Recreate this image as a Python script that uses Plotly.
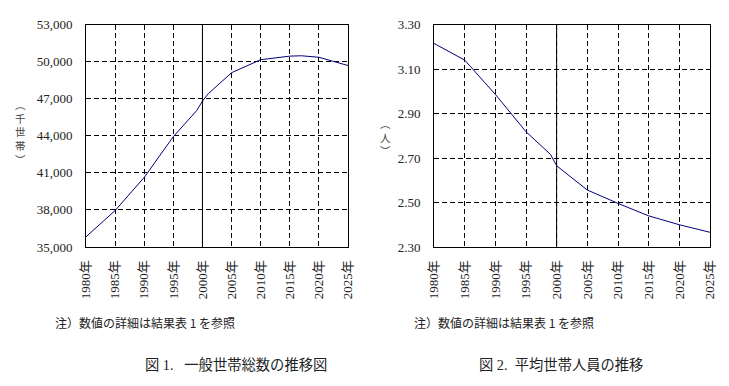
import plotly.graph_objects as go

# ---- data ----
years_hh = [1980, 1985, 1990, 1995, 1999, 2000, 2001, 2005, 2010, 2015, 2017, 2020, 2025]
households = [35824, 37950, 40630, 43930, 46030, 46800, 47400, 49100, 50150, 50440, 50470, 50350, 49680]

years_sz = [1980, 1985, 1990, 1995, 1999, 2000, 2005, 2010, 2015, 2020, 2025]
avg_size = [3.215, 3.14, 2.986, 2.818, 2.716, 2.665, 2.556, 2.496, 2.44, 2.40, 2.366]

tick_years = [1980, 1985, 1990, 1995, 2000, 2005, 2010, 2015, 2020, 2025]
tick_year_labels = [f"{y}年" for y in tick_years]
y1_ticks = [35000, 38000, 41000, 44000, 47000, 50000, 53000]
y1_labels = ["35,000", "38,000", "41,000", "44,000", "47,000", "50,000", "53,000"]
y2_ticks = [2.30, 2.50, 2.70, 2.90, 3.10, 3.30]
y2_labels = ["2.30", "2.50", "2.70", "2.90", "3.10", "3.30"]
split_year = 2000

note_text = "注）数値の詳細は結果表 1 を参照"
caption1 = "図 1.&nbsp;&nbsp; 一般世帯総数の推移図"
caption2 = "図 2.&nbsp; 平均世帯人員の推移"
ytitle1_chars = ["︵", "千", "世", "帯", "︶"]
ytitle2_chars = ["︵", "人", "︶"]

# page body has an 8px margin; work in window pixels and shift
OFF = 8
W, H = 729 - OFF, 386 - OFF
FONT = "'Liberation Serif', 'Times New Roman', 'Noto Sans CJK JP', serif"
CJK = "'Noto Sans CJK JP', sans-serif"
TXT = "#222222"
LINE = "#00007a"

fig = go.Figure()
fig.add_trace(go.Scatter(x=years_hh, y=households, mode="lines",
                         line=dict(color=LINE, width=1), xaxis="x", yaxis="y",
                         showlegend=False, hoverinfo="skip"))
fig.add_trace(go.Scatter(x=years_sz, y=avg_size, mode="lines",
                         line=dict(color=LINE, width=1), xaxis="x2", yaxis="y2",
                         showlegend=False, hoverinfo="skip"))

def px_x(p):
    return (p - OFF) / W

def px_y(p):
    return 1 - (p - OFF) / H

ydom = [px_y(247), px_y(24.5)]

xcommon = dict(range=[1980, 2025], tickvals=tick_years, ticktext=tick_year_labels,
               tickangle=-90, showgrid=True, gridcolor="black", griddash="5px,3px",
               gridwidth=1, showline=True, linecolor="black", linewidth=1, mirror=True,
               ticks="", ticklabelstandoff=7, zeroline=False, automargin=False,
               tickfont=dict(family=FONT, size=13, color=TXT))
ycommon = dict(showgrid=True, gridcolor="black", griddash="5px,3px", gridwidth=1,
               showline=True, linecolor="black", linewidth=1, mirror=True,
               ticks="", ticklabelstandoff=10, zeroline=False, automargin=False,
               tickfont=dict(family=FONT, size=13, color=TXT))

fig.update_layout(
    width=W, height=H, margin=dict(l=0, r=0, t=0, b=0, autoexpand=False),
    paper_bgcolor="white", plot_bgcolor="white",
    xaxis=dict(domain=[px_x(86), px_x(348)], anchor="y", **xcommon),
    yaxis=dict(domain=ydom, anchor="x", range=[35000, 53000], tickvals=y1_ticks,
               ticktext=y1_labels, **ycommon),
    xaxis2=dict(domain=[px_x(434), px_x(710)], anchor="y2", **xcommon),
    yaxis2=dict(domain=ydom, anchor="x2", range=[2.30, 3.30], tickvals=y2_ticks,
                ticktext=y2_labels, **ycommon),
)

# solid line at split year
for xr, yr in [("x", "y domain"), ("x2", "y2 domain")]:
    fig.add_shape(type="line", xref=xr, yref=yr, x0=split_year, x1=split_year, y0=0, y1=1,
                  line=dict(color="black", width=1))

afont = dict(family=CJK, size=12, color=TXT)
tfont = dict(family=CJK, size=10.5, color="#444")

fig.add_annotation(xref="paper", yref="paper", showarrow=False, x=px_x(20), y=px_y(132),
                   text="<br>".join(ytitle1_chars), font=tfont, xanchor="center", yanchor="middle")
fig.add_annotation(xref="paper", yref="paper", showarrow=False, x=px_x(385), y=px_y(137),
                   text="<br>".join(ytitle2_chars), font=tfont, xanchor="center", yanchor="middle")

annots = [
    dict(x=px_x(53), y=px_y(322), text=note_text, font=afont, xanchor="left", yanchor="middle"),
    dict(x=px_x(412), y=px_y(322), text=note_text, font=afont, xanchor="left", yanchor="middle"),
    dict(x=px_x(143), y=px_y(365), text=caption1, font=dict(family=FONT, size=14.3, color=TXT), xanchor="left", yanchor="middle"),
    dict(x=px_x(477), y=px_y(365), text=caption2, font=dict(family=FONT, size=14.3, color=TXT), xanchor="left", yanchor="middle"),
]
for a in annots:
    fig.add_annotation(xref="paper", yref="paper", showarrow=False, **a)

fig.write_html("out.html")
